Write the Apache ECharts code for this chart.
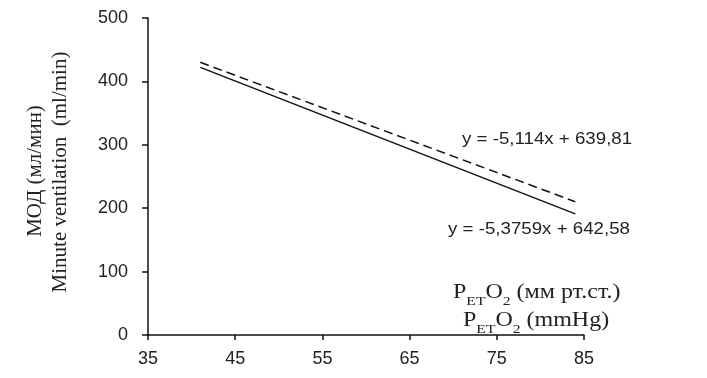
<!DOCTYPE html>
<html><head><meta charset="utf-8">
<script src="https://cdn.jsdelivr.net/npm/echarts@6/dist/echarts.min.js"></script>
<style>html,body{margin:0;padding:0;background:#fff}#c{width:707px;height:378px}</style>
</head><body><div id="c"></div>
<script>
const xRange = [41, 84];
const solidLine = [[41, 422.2], [84, 191.0]];
const dashedLine = [[41, 430.1], [84, 210.2]];
const xTicks = [35, 45, 55, 65, 75, 85];
const yTicks = [0, 100, 200, 300, 400, 500];
const eqDashed = 'y = -5,114x + 639,81';
const eqSolid = 'y = -5,3759x + 642,58';
const yName = ['МОД (мл/мин)', 'Minute ventilation  (ml/min)'];

const chart = echarts.init(document.getElementById('c'));
const sub = {fontSize: 13, fontFamily: 'Liberation Serif', color: '#222', verticalAlign: 'bottom', padding: [0,0,-5,0]};
const main = {fontSize: 20, fontFamily: 'Liberation Serif', color: '#222'};
function txt(x, y, style, scaleX, rotation) {
  return {type: 'text', x: x, y: y, scaleX: scaleX || 1, rotation: rotation || 0,
    style: Object.assign({fill: '#222', textVerticalAlign: 'middle'}, style)};
}
chart.setOption({
  animation: false,
  grid: {left: 148, right: 123, top: 18, bottom: 43},
  xAxis: {
    type: 'value', min: 35, max: 85, interval: 10,
    axisLine: {lineStyle: {color: '#111', width: 1.5}},
    axisTick: {inside: false, length: 5, lineStyle: {color: '#111', width: 1.5}},
    axisLabel: {color: '#222', fontSize: 18, fontFamily: 'Liberation Sans', margin: 15},
    splitLine: {show: false}
  },
  yAxis: {
    type: 'value', min: 0, max: 500, interval: 100,
    axisLine: {show: true, lineStyle: {color: '#111', width: 1.5}},
    axisTick: {show: true, length: 6, lineStyle: {color: '#111', width: 1.5}},
    axisLabel: {color: '#222', fontSize: 18, fontFamily: 'Liberation Sans', margin: 20},
    splitLine: {show: false}
  },
  series: [
    {type: 'line', data: solidLine, symbol: 'none', lineStyle: {color: '#111', width: 1.5}},
    {type: 'line', data: dashedLine, symbol: 'none', lineStyle: {color: '#111', width: 1.5, type: [9, 5]}}
  ],
  graphic: [
    txt(35, 171, {text: yName[0], fontSize: 21, fontFamily: 'Liberation Serif', textAlign: 'center'}, 1, Math.PI / 2),
    txt(60, 172, {text: yName[1], fontSize: 21, fontFamily: 'Liberation Serif', textAlign: 'center'}, 1, Math.PI / 2),
    txt(462, 139, {text: eqDashed, fontSize: 17, fontFamily: 'Liberation Sans', textAlign: 'left'}, 1.1),
    txt(448, 229, {text: eqSolid, fontSize: 17, fontFamily: 'Liberation Sans', textAlign: 'left'}, 1.1),
    txt(453, 293, {text: '{m|P}{s|ET}{m|O}{s|2}{m| (мм рт.ст.)}', rich: {m: main, s: sub}, textAlign: 'left'}, 1.2),
    txt(463, 321, {text: '{m|P}{s|ET}{m|O}{s|2}{m| (mmHg)}', rich: {m: main, s: sub}, textAlign: 'left'}, 1.2)
  ]
});
</script></body></html>
